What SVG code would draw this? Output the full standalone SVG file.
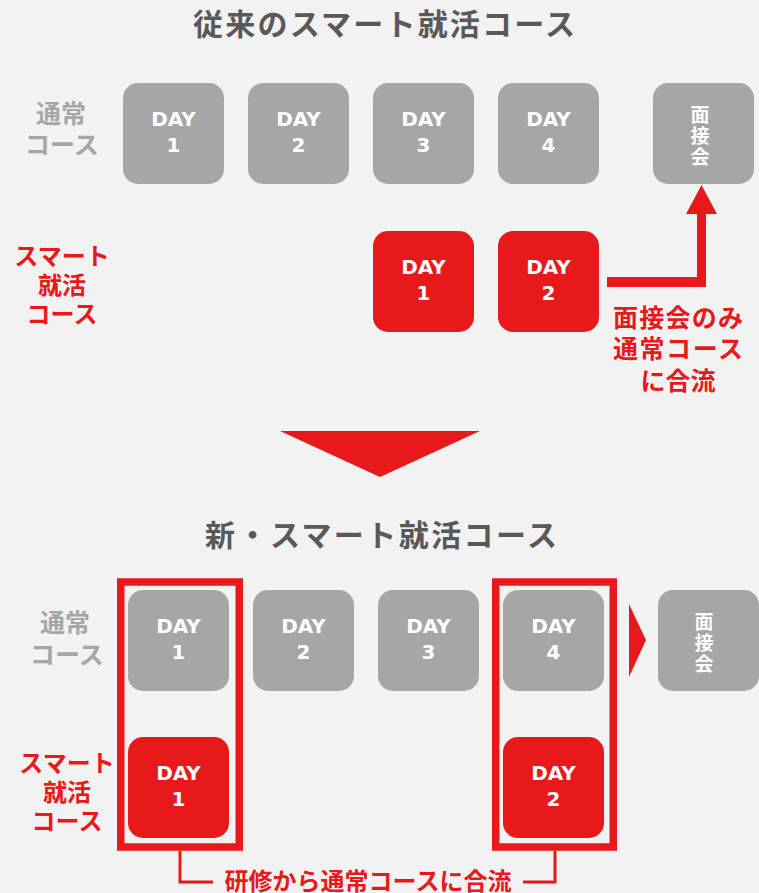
<svg xmlns="http://www.w3.org/2000/svg" width="759" height="893" viewBox="0 0 759 893">
<style>
.bg{fill:#f2f2f2}
.gb{fill:#a6a6a6}
.rb{fill:#e8191a}
.jp{font-family:"Noto Sans CJK JP","Noto Sans",sans-serif;font-weight:bold}
.day{font-family:"DejaVu Sans","Noto Sans",sans-serif;font-weight:bold;font-size:20px;fill:#fff;text-anchor:middle}
.title{font-size:30px;fill:#595959;text-anchor:middle}
.glab{font-size:25px;fill:#a6a6a6;text-anchor:middle}
.rlab{font-size:24px;fill:#e8191a;text-anchor:middle}
.vt{font-size:19px;fill:#fff;text-anchor:middle}
.frame{fill:none;stroke:#e8191a;stroke-width:7.5}
.conn{fill:none;stroke:#e8191a;stroke-width:3}
.red{fill:#e8191a}
</style>
<rect class="bg" x="0" y="0" width="759" height="893"/>

<g id="title-old"><text class="jp title" x="384" y="35" textLength="382" lengthAdjust="spacing">従来のスマート就活コース</text></g>
<g id="label-old-normal"><text class="jp glab" x="61" y="123">通常</text><text class="jp glab" x="62" y="154">コース</text></g>
<g id="label-old-smart"><text class="jp rlab" x="62" y="265">スマート</text><text class="jp rlab" x="62" y="294">就活</text><text class="jp rlab" x="62" y="323">コース</text></g>

<g id="old-day1"><rect class="gb" x="123" y="83" width="101" height="101" rx="15"/><text class="day" x="173.5" y="126">DAY</text><text class="day" x="173.5" y="152">1</text></g>
<g id="old-day2"><rect class="gb" x="248" y="83" width="101" height="101" rx="15"/><text class="day" x="298.5" y="126">DAY</text><text class="day" x="298.5" y="152">2</text></g>
<g id="old-day3"><rect class="gb" x="373" y="83" width="101" height="101" rx="15"/><text class="day" x="423.5" y="126">DAY</text><text class="day" x="423.5" y="152">3</text></g>
<g id="old-day4"><rect class="gb" x="498" y="83" width="101" height="101" rx="15"/><text class="day" x="548.5" y="126">DAY</text><text class="day" x="548.5" y="152">4</text></g>
<g id="old-interview"><rect class="gb" x="653" y="83" width="101" height="101" rx="15"/><text class="jp vt" x="700" y="122">面</text><text class="jp vt" x="700" y="143">接</text><text class="jp vt" x="700" y="164">会</text></g>
<g id="old-smart-day1"><rect class="rb" x="373" y="231" width="101" height="101" rx="15"/><text class="day" x="423.5" y="274">DAY</text><text class="day" x="423.5" y="300">1</text></g>
<g id="old-smart-day2"><rect class="rb" x="498" y="231" width="101" height="101" rx="15"/><text class="day" x="548.5" y="274">DAY</text><text class="day" x="548.5" y="300">2</text></g>
<g id="old-merge-label"><text class="jp rlab" x="678" y="327" style="font-size:25px" textLength="130" lengthAdjust="spacing">面接会のみ</text><text class="jp rlab" x="678" y="358" style="font-size:25px" textLength="130" lengthAdjust="spacing">通常コース</text><text class="jp rlab" x="678" y="390" style="font-size:25px">に合流</text></g>

<g id="transition-arrow"><polygon class="red" points="280,431 480,431 380,477"/></g>

<g id="title-new"><text class="jp title" x="381" y="546" textLength="352" lengthAdjust="spacing">新・スマート就活コース</text></g>
<g id="label-new-normal"><text class="jp glab" x="65" y="632">通常</text><text class="jp glab" x="67" y="664">コース</text></g>
<g id="label-new-smart"><text class="jp rlab" x="67" y="772">スマート</text><text class="jp rlab" x="67" y="801">就活</text><text class="jp rlab" x="67" y="830">コース</text></g>

<g id="new-day1"><rect class="gb" x="128" y="590" width="101" height="101" rx="15"/><text class="day" x="178.5" y="633">DAY</text><text class="day" x="178.5" y="659">1</text></g>
<g id="new-day2"><rect class="gb" x="253" y="590" width="101" height="101" rx="15"/><text class="day" x="303.5" y="633">DAY</text><text class="day" x="303.5" y="659">2</text></g>
<g id="new-day3"><rect class="gb" x="378" y="590" width="101" height="101" rx="15"/><text class="day" x="428.5" y="633">DAY</text><text class="day" x="428.5" y="659">3</text></g>
<g id="new-day4"><rect class="gb" x="503" y="590" width="101" height="101" rx="15"/><text class="day" x="553.5" y="633">DAY</text><text class="day" x="553.5" y="659">4</text></g>
<g id="new-interview"><rect class="gb" x="658" y="590" width="101" height="101" rx="15"/><text class="jp vt" x="704" y="629">面</text><text class="jp vt" x="704" y="650">接</text><text class="jp vt" x="704" y="671">会</text></g>
<g id="new-smart-day1"><rect class="rb" x="128" y="737" width="101" height="101" rx="15"/><text class="day" x="178.5" y="780">DAY</text><text class="day" x="178.5" y="806">1</text></g>
<g id="new-smart-day2"><rect class="rb" x="503" y="737" width="101" height="101" rx="15"/><text class="day" x="553.5" y="780">DAY</text><text class="day" x="553.5" y="806">2</text></g>
<g id="frame-col1"><rect class="frame" x="120.75" y="582" width="118.5" height="265"/></g>
<g id="frame-col4"><rect class="frame" x="495.75" y="582" width="117.5" height="265"/></g>
<g id="new-merge-label"><text class="jp rlab" x="368" y="890" textLength="287" lengthAdjust="spacing">研修から通常コースに合流</text></g>

<g id="connectors">
<polyline class="red" points="607,277 697,277 697,214 686,214 701.5,185 717,214 706,214 706,287 607,287"/>
<polygon class="red" points="629,604 646,640 629,677"/>
<polyline class="conn" points="180,851 180,882 213,882"/>
<polyline class="conn" points="555,851 555,882 523,882"/>
</g>
</svg>
